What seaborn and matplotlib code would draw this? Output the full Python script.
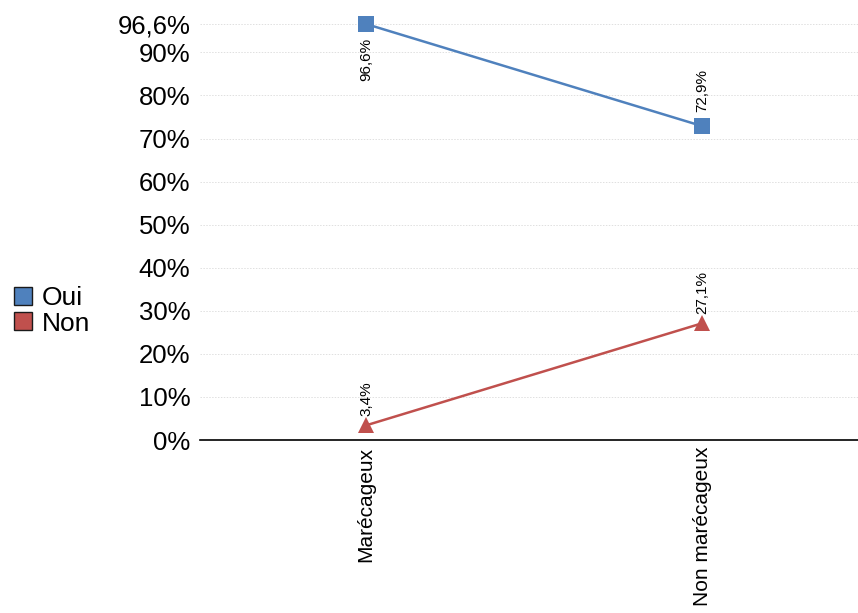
import matplotlib
matplotlib.use("Agg")
import matplotlib.pyplot as plt
from matplotlib.lines import Line2D
import seaborn as sns
import pandas as pd

# Share of answers per zone type
categories = ["Marécageux", "Non marécageux"]
oui = [96.6, 72.9]
non = [3.4, 27.1]
series_names = ["Oui", "Non"]
y_ticks = [0, 10, 20, 30, 40, 50, 60, 70, 80, 90, 96.6]
y_tick_labels = ["0%", "10%", "20%", "30%", "40%", "50%", "60%", "70%", "80%", "90%", "96,6%"]

colors = {"Oui": "#4F81BD", "Non": "#C0504D"}
markers = {"Oui": "s", "Non": "^"}

df = pd.DataFrame({
    "zone": categories * 2,
    "pos": [0, 1] * 2,
    "value": oui + non,
    "serie": [series_names[0]] * 2 + [series_names[1]] * 2,
})

sns.set_theme(style="white")
plt.rcParams["font.family"] = ["Liberation Sans", "DejaVu Sans"]
plt.rcParams["text.color"] = "black"
plt.rcParams["xtick.color"] = "black"
plt.rcParams["ytick.color"] = "black"

fig = plt.figure(figsize=(8.58, 6.13), dpi=100)
ax = fig.add_axes([200 / 858, 173 / 613, 1 - 200 / 858, 416 / 613])

sns.lineplot(data=df, x="pos", y="value", hue="serie", style="serie",
             palette=colors, markers=markers, dashes=False, markersize=11,
             markeredgewidth=0, linewidth=1.8, legend=False, ax=ax)
for ln in ax.lines:
    ln.set_clip_on(False)

ax.set_xlim(-0.494, 1.464)
ax.set_ylim(0, 96.6)
ax.set_yticks(y_ticks)
ax.set_yticklabels(y_tick_labels, fontsize=18.5, color="black")
ax.set_xticks([0, 1])
ax.set_xticklabels(categories, rotation=90, fontsize=15, color="black")
ax.tick_params(axis="x", length=0, pad=5)
ax.tick_params(axis="y", length=0, pad=7)
ax.set_xlabel("")
ax.set_ylabel("")

ax.grid(axis="y", color="#e0e0e0", linestyle=(0, (1.5, 1.5)), linewidth=0.7)
ax.set_axisbelow(True)
for side in ["left", "right", "top"]:
    ax.spines[side].set_visible(False)
ax.spines["bottom"].set_color("black")
ax.spines["bottom"].set_linewidth(1.2)

# Value labels, rotated like the category labels
def fmt(v):
    return f"{v:.1f}".replace(".", ",") + "%"

for i, v in enumerate(oui):
    if i == 0:
        ax.annotate(fmt(v), (i, v), xytext=(0, -10), textcoords="offset points",
                    rotation=90, ha="center", va="top", fontsize=11, color="black")
    else:
        ax.annotate(fmt(v), (i, v), xytext=(0, 10), textcoords="offset points",
                    rotation=90, ha="center", va="bottom", fontsize=11, color="black")
for i, v in enumerate(non):
    ax.annotate(fmt(v), (i, v), xytext=(0, 7), textcoords="offset points",
                rotation=90, ha="center", va="bottom", fontsize=11, color="black")

handles = [Line2D([], [], marker="s", linestyle="none", markersize=13,
                  markerfacecolor=colors[s], markeredgecolor="#1a1a1a",
                  markeredgewidth=1.0) for s in series_names]
fig.legend(handles, series_names, loc="center left",
           bbox_to_anchor=(6 / 858, 1 - 311 / 613), frameon=False, fontsize=19,
           handletextpad=0.25, labelspacing=0.05, handlelength=0.9,
           borderpad=0.2, borderaxespad=0.0, labelcolor="black")

fig.savefig("out.png", dpi=100)
